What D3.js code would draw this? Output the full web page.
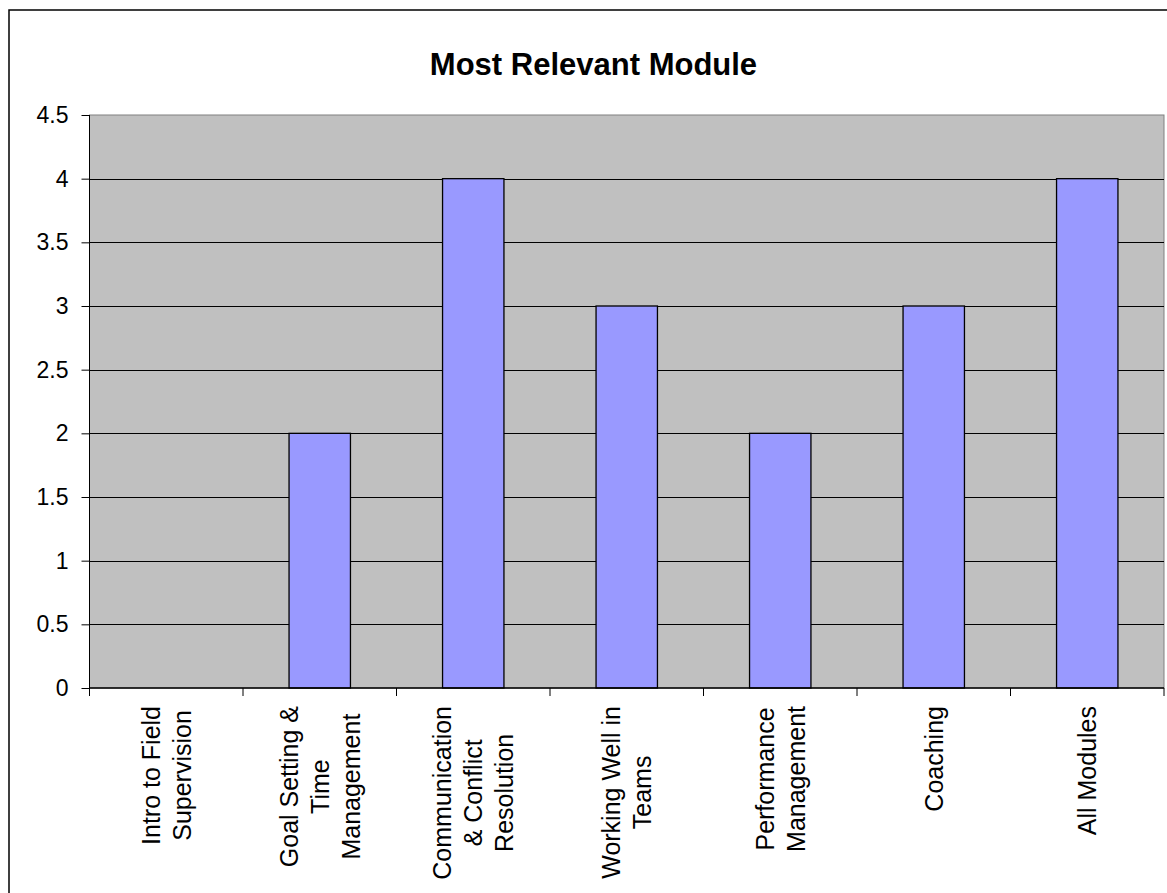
<!DOCTYPE html>
<html>
<head>
<meta charset="utf-8">
<script src="https://cdn.jsdelivr.net/npm/d3@7"></script>
<style>
  html, body { margin: 0; padding: 0; background: #fff; }
  svg { display: block; }
  text { font-family: "Liberation Sans", Arial, sans-serif; fill: #000; }
</style>
</head>
<body>
<svg id="chart" width="1167" height="893"></svg>
<script>
const title = "Most Relevant Module";
const categories = [
  ["Intro to Field", "Supervision"],
  ["Goal Setting &", "Time", "Management"],
  ["Communication", "& Conflict", "Resolution"],
  ["Working Well in", "Teams"],
  ["Performance", "Management"],
  ["Coaching"],
  ["All Modules"]
];
const values = [0, 2, 4, 3, 2, 3, 4];
const yTicks = [0, 0.5, 1, 1.5, 2, 2.5, 3, 3.5, 4, 4.5];
const yTickLabels = ["0", "0.5", "1", "1.5", "2", "2.5", "3", "3.5", "4", "4.5"];

const svg = d3.select("#chart");
const pLeft = 89.5, pRight = 1164, pTop = 115, pBottom = 688;

// outer chart border
svg.append("rect")
  .attr("x", 9).attr("y", 10).attr("width", 1300).attr("height", 1000)
  .attr("fill", "#fff").attr("stroke", "#000").attr("stroke-width", 1.5);

const x = d3.scaleBand().domain(d3.range(categories.length)).range([pLeft, pRight]).paddingInner(0).paddingOuter(0);
const y = d3.scaleLinear().domain([0, 4.5]).range([pBottom, pTop]);

// plot area
svg.append("rect")
  .attr("x", pLeft).attr("y", pTop).attr("width", pRight - pLeft).attr("height", pBottom - pTop)
  .attr("fill", "#C0C0C0").attr("stroke", "#808080").attr("stroke-width", 1);

// gridlines
svg.append("g").selectAll("line").data(yTicks.filter(d => d > 0 && d < 4.5)).join("line")
  .attr("x1", pLeft).attr("x2", pRight)
  .attr("y1", d => Math.round(y(d)) + 0.5).attr("y2", d => Math.round(y(d)) + 0.5)
  .attr("stroke", "#000").attr("stroke-width", 1);

// bars
const bw = x.bandwidth() * 0.4;
svg.append("g").selectAll("rect").data(values).join("rect")
  .attr("x", (d, i) => x(i) + (x.bandwidth() - bw) / 2)
  .attr("y", d => y(d))
  .attr("width", bw)
  .attr("height", d => y(0) - y(d))
  .attr("fill", d => d > 0 ? "#9999FF" : "none")
  .attr("stroke", d => d > 0 ? "#000" : "none")
  .attr("stroke-width", 1.3);

// y axis
const yAxis = d3.axisLeft(y).tickValues(yTicks).tickFormat((d, i) => yTickLabels[i]).tickSize(8).tickPadding(13);
const gy = svg.append("g").attr("transform", `translate(${pLeft},0)`).call(yAxis);
gy.select(".domain").attr("stroke", "#000").attr("d", `M0,${pTop}V${pBottom}`);
gy.selectAll(".tick line").attr("stroke", "#000");
gy.selectAll(".tick text").attr("font-size", 23).attr("font-family", "Liberation Sans, Arial, sans-serif").attr("fill", "#000");

// x axis (ticks at category boundaries)
const boundaries = d3.range(categories.length + 1).map(i => i === categories.length ? pRight : x(i));
const gx = svg.append("g");
gx.append("line").attr("x1", pLeft).attr("x2", pRight).attr("y1", pBottom).attr("y2", pBottom).attr("stroke", "#000").attr("stroke-width", 1.3);
gx.selectAll("line.tk").data(boundaries).join("line").attr("class", "tk")
  .attr("x1", d => d).attr("x2", d => d).attr("y1", pBottom).attr("y2", pBottom + 8)
  .attr("stroke", "#000");

// category labels (rotated, lines centred on each other, block top at 706)
const lineGap = 31;
const lab = svg.append("g").selectAll("g").data(categories).join("g")
  .attr("transform", (d, i) => `translate(${x(i) + x.bandwidth() / 2},706) rotate(-90)`);
lab.each(function(lines) {
  const n = lines.length;
  const texts = d3.select(this).selectAll("text").data(lines).join("text")
    .attr("y", (l, k) => (k - (n - 1) / 2) * lineGap)
    .attr("dy", "0.36em")
    .attr("text-anchor", "middle")
    .attr("font-size", 25)
    .text(l => l);
  let maxLen = 0;
  texts.each(function() { maxLen = Math.max(maxLen, this.getComputedTextLength()); });
  texts.attr("x", -maxLen / 2);
});

// title
svg.append("text").attr("x", 593.5).attr("y", 75).attr("text-anchor", "middle")
  .attr("font-size", 31).attr("font-weight", "bold").text(title);
</script>
</body>
</html>
